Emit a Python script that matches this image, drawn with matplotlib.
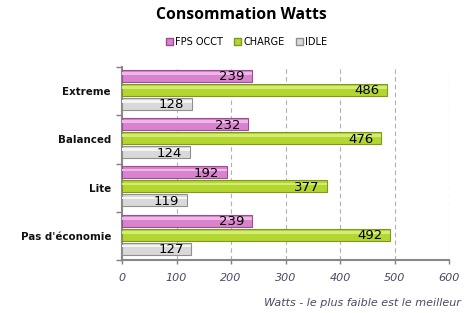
import matplotlib
matplotlib.use("Agg")
import matplotlib.pyplot as plt
from matplotlib.patches import Patch
import numpy as np

categories = ["Extreme", "Balanced", "Lite", "Pas d'économie"]
series_names = ["FPS OCCT", "CHARGE", "IDLE"]
fps_occt = [239, 232, 192, 239]
charge = [486, 476, 377, 492]
idle = [128, 124, 119, 127]
x_ticks = [0, 100, 200, 300, 400, 500, 600]

colors = ["#D983CF", "#B4D630", "#D9D9D9"]
edges = ["#9C4E93", "#7E9A1C", "#8F8F8F"]
highlights = ["#EDB8E6", "#D3EC78", "#F4F4F4"]

fig = plt.figure(figsize=(4.77, 3.13), dpi=100)
ax = fig.add_axes([0.2558, 0.1693, 0.6855, 0.6166])

series = [fps_occt, charge, idle]
offsets = [0.185, 0.474, 0.763]
h = 0.25
for s, (vals, off) in enumerate(zip(series, offsets)):
    ys = np.arange(len(categories)) + off
    ax.barh(ys, vals, height=h, color=colors[s], edgecolor=edges[s], linewidth=0.8, zorder=3)
    ax.barh(ys - h * 0.2, vals, height=h * 0.22, color=highlights[s], linewidth=0, zorder=3.5)
    for y, v in zip(ys, vals):
        ax.text(v - 14, y + 0.02, str(v), ha="right", va="center", fontsize=9.5,
                color="black", zorder=5, family="DejaVu Sans")

ax.set_xlim(0, 600)
ax.set_ylim(len(categories), 0)
ax.set_xticks(x_ticks)
ax.set_xticklabels([str(t) for t in x_ticks], fontsize=8, style="italic", color="#4A4A66")
ax.set_yticks(np.arange(len(categories)) + 0.5)
ax.set_yticklabels(categories, fontsize=7.4, fontweight="bold", color="#111111")
ax.tick_params(axis="y", which="major", length=0, pad=8)
ax.set_yticks(np.arange(len(categories) + 1), minor=True)
ax.tick_params(axis="y", which="minor", length=4, color="#808080", width=1)
ax.tick_params(axis="x", length=3, color="#808080", width=1, direction="out", pad=6)
ax.grid(axis="x", linestyle=(0, (4, 3)), color="#B0B0B0", linewidth=0.8, zorder=1)
for sp in ["top", "right"]:
    ax.spines[sp].set_visible(False)
for sp in ["left", "bottom"]:
    ax.spines[sp].set_color("#888888")
    ax.spines[sp].set_linewidth(1.5)

fig.text(0.506, 0.952, "Consommation Watts", ha="center", va="center", fontsize=11.3,
         fontweight="bold", family="Open Sans")
handles = [Patch(facecolor=colors[i], edgecolor=edges[i]) for i in range(3)]
fig.legend(handles, series_names, loc="center", bbox_to_anchor=(0.517, 0.866), ncol=3,
           frameon=False, fontsize=7, handlelength=0.7, handleheight=0.7,
           handletextpad=0.2, columnspacing=1.2)
fig.text(0.966, 0.033, "Watts - le plus faible est le meilleur", ha="right", va="center",
         fontsize=8, style="italic", color="#4A4A66")

fig.savefig("out.png", dpi=100)
